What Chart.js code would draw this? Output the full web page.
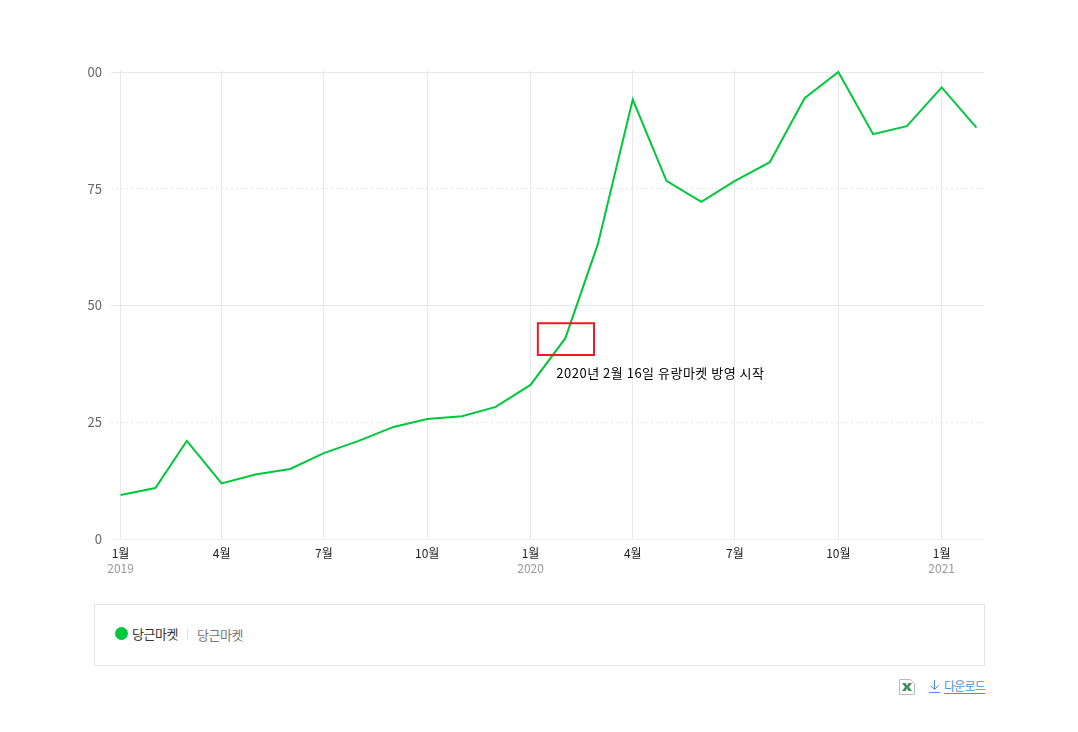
<!DOCTYPE html>
<html lang="ko">
<head>
<meta charset="utf-8">
<title>당근마켓</title>
<script src="https://cdn.jsdelivr.net/npm/chart.js@4"></script>
<style>
  html, body { margin: 0; padding: 0; background: #fff; }
  body { width: 1078px; height: 732px; overflow: hidden; position: relative; font-family: "Noto Sans CJK KR", sans-serif; }
  #myChart { position: absolute; left: 0; top: 0; }
  .legend { position: absolute; left: 94px; top: 604px; width: 889px; height: 60px; border: 1px solid #e4e4e4; font-size: 13px; letter-spacing: -0.5px; }
  .legend .dot { position: absolute; left: 20px; top: 22px; width: 13px; height: 13px; border-radius: 50%; background: #00c73c; }
  .legend .name { position: absolute; left: 37px; top: 20px; line-height: 17px; color: #333; }
  .legend .bar { position: absolute; left: 92px; top: 24px; width: 1px; height: 11px; background: #ddd; }
  .legend .term { position: absolute; left: 102px; top: 21px; line-height: 17px; color: #777; }
  .excel { position: absolute; left: 899px; top: 679px; }
  .arrow { position: absolute; left: 929px; top: 680px; }
  .down { position: absolute; left: 944px; top: 677px; font-size: 12px; line-height: 17px; letter-spacing: -0.8px; color: #4a90e2; text-decoration: underline; text-underline-offset: 2px; }
</style>
</head>
<body>
<canvas id="myChart" width="1078" height="600"></canvas>
<div class="legend">
  <span class="dot"></span><span class="name">당근마켓</span><span class="bar"></span><span class="term">당근마켓</span>
</div>
<svg class="excel" width="16" height="16" viewBox="0 0 16 16">
  <path d="M0.5 0.5H11.5L15.5 4.5V15.5H0.5Z" fill="#fff" stroke="#b5bcc0"/>
  <path d="M3 4H6.5L8 6.5L9.5 4H13L10 8L13 12H9.5L8 9.5L6.5 12H3L6 8Z" fill="#3f8f5b"/>
</svg>
<svg class="arrow" width="11" height="13" viewBox="0 0 11 13">
  <path d="M5.5 0V9M1.5 5.5L5.5 9.5L9.5 5.5M0 12.5H11" fill="none" stroke="#4a90e2"/>
</svg>
<span class="down">다운로드</span>
<script>
// days since 2019-01-01 for each month
var days = [0, 31, 59, 90, 120, 151, 181, 212, 243, 273, 304, 334, 365, 396, 425, 456, 486, 517, 547, 578, 609, 639, 670, 700, 731, 762];
var values = [9.4, 10.9, 21, 11.9, 13.8, 15, 18.4, 21, 24, 25.7, 26.3, 28.3, 33, 43, 63.2, 94.1, 76.7, 72.2, 76.7, 80.7, 94.4, 100, 86.7, 88.4, 96.7, 88.1];

var monthTicks = [0, 90, 181, 273, 365, 456, 547, 639, 731];
var monthLabels = ['1월', '4월', '7월', '10월', '1월', '4월', '7월', '10월', '1월'];
var yearTicks = [0, 365, 731];
var yearLabels = ['2019', '2020', '2021'];
var solidTicks = [0, 25, 50, 75, 100];
var solidLabels = ['0', '25', '50', '75', '00'];
var dottedTicks = [25, 75];

var noteBoxX = [371.5, 421.5];
var noteBoxY = [39.4, 46.2];
var noteText = '2020년 2월 16일 유랑마켓 방영 시작';
var noteAt = [388, 35.6];

var fontName = '"Noto Sans CJK KR", sans-serif';

function setTicks(list) {
  return function(scale) {
    scale.ticks = list.map(function(v) { return { value: v }; });
  };
}

// red box and text on the chart, placed through the scales
var notePlugin = {
  id: 'note',
  afterDatasetsDraw: function(chart) {
    var c = chart.ctx, x = chart.scales.x, y = chart.scales.y;
    var left = x.getPixelForValue(noteBoxX[0]), right = x.getPixelForValue(noteBoxX[1]);
    var top = y.getPixelForValue(noteBoxY[1]), bottom = y.getPixelForValue(noteBoxY[0]);
    c.save();
    c.strokeStyle = '#ec1c24';
    c.lineWidth = 2;
    c.strokeRect(left, top, right - left, bottom - top);
    c.fillStyle = '#000';
    c.font = '13px ' + fontName;
    c.letterSpacing = '0.5px';
    c.textBaseline = 'middle';
    c.fillText(noteText, x.getPixelForValue(noteAt[0]), y.getPixelForValue(noteAt[1]));
    c.restore();
  }
};

document.addEventListener('DOMContentLoaded', function() {
  var ctx = document.getElementById('myChart').getContext('2d');
  new Chart(ctx, {
    type: 'line',
    data: {
      datasets: [{
        label: '당근마켓',
        data: days.map(function(d, i) { return { x: d, y: values[i] }; }),
        borderColor: '#00c73c',
        borderWidth: 2,
        pointRadius: 0,
        tension: 0,
        clip: false
      }]
    },
    options: {
      responsive: false,
      animation: false,
      layout: { padding: { top: 70, right: 94, left: 0, bottom: 0 } },
      plugins: { legend: { display: false }, tooltip: { enabled: false } },
      scales: {
        x: {
          type: 'linear',
          min: -8.5,
          max: 768.7,
          afterBuildTicks: setTicks(monthTicks),
          afterFit: function(s) { s.height = 20; },
          grid: { color: '#e8e8e8', drawTicks: false },
          border: { display: false },
          ticks: {
            autoSkip: false, maxRotation: 0, padding: 7, color: '#222',
            font: { family: fontName, size: 12 },
            callback: function(v, i) { return monthLabels[i]; }
          }
        },
        xYear: {
          type: 'linear',
          position: 'bottom',
          weight: 1,
          min: -8.5,
          max: 768.7,
          afterBuildTicks: setTicks(yearTicks),
          afterFit: function(s) { s.height = 41; },
          grid: { display: false, drawTicks: false },
          border: { display: false },
          ticks: {
            autoSkip: false, maxRotation: 0, padding: 2, color: '#999',
            font: { family: fontName, size: 12 },
            callback: function(v, i) { return yearLabels[i]; }
          }
        },
        y: {
          min: 0,
          max: 100.43,
          afterBuildTicks: setTicks(solidTicks),
          afterFit: function(s) { s.width = 111; },
          grid: {
            drawTicks: false,
            color: function(c) {
              if (c.tick.value === 0) return '#f2f2f2';
              return (c.tick.value === 25 || c.tick.value === 75) ? 'rgba(0,0,0,0)' : '#e8e8e8';
            }
          },
          border: { display: false },
          ticks: {
            padding: 9, color: '#666',
            font: { family: fontName, size: 13 },
            callback: function(v, i) { return solidLabels[i]; }
          }
        },
        yDots: {
          position: 'left',
          min: 0,
          max: 100.43,
          afterBuildTicks: setTicks(dottedTicks),
          afterFit: function(s) { s.width = 0; },
          grid: { color: '#e6e6e6', drawTicks: false },
          border: { display: false, dash: [2, 3] },
          ticks: { display: false }
        }
      }
    },
    plugins: [notePlugin]
  });
});
</script>
</body>
</html>
